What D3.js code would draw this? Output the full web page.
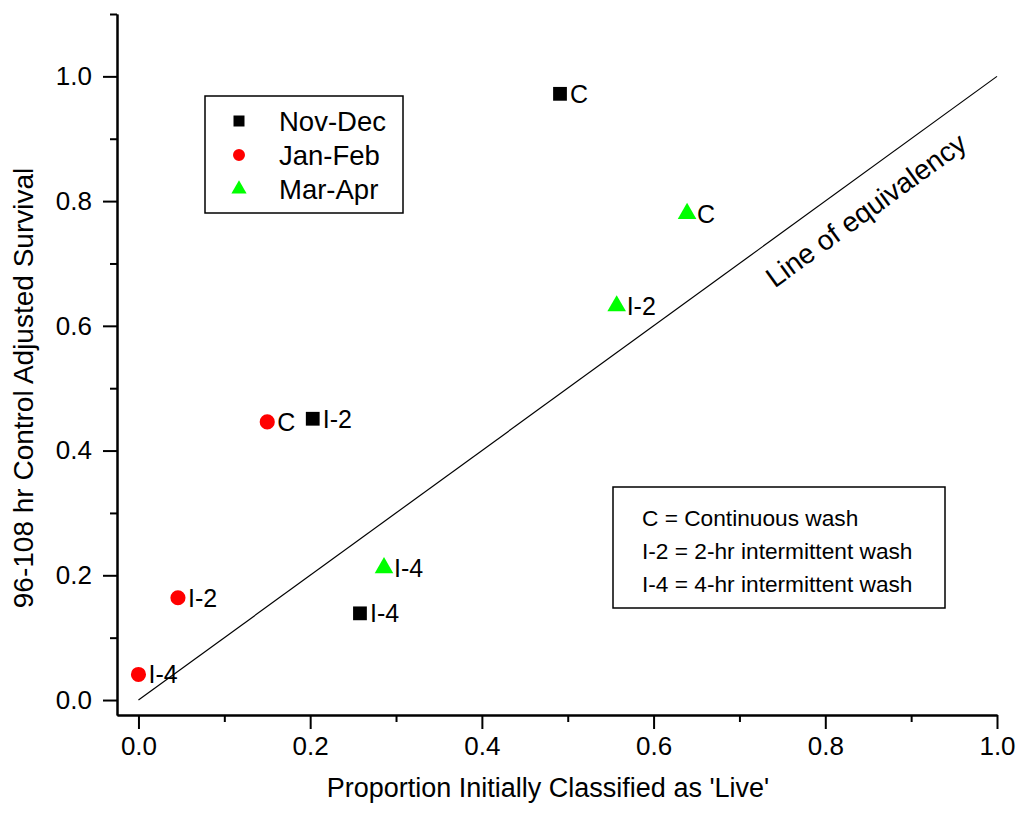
<!DOCTYPE html>
<html>
<head>
<meta charset="utf-8">
<script src="https://cdn.jsdelivr.net/npm/d3@7"></script>
<style>
    html, body { margin: 0; padding: 0; background: #ffffff; }
    svg { display: block; }
    svg text { font-family: "Liberation Sans", Arial, Helvetica, sans-serif; fill: #000; }
</style>
</head>
<body>
<div id="chart"></div>
<script>
(function () {
    "use strict";

    const periods = ["Nov-Dec", "Jan-Feb", "Mar-Apr"];
    const treatments = ["C", "I-2", "I-4"];

    // proportion classified live (x) and adjusted survival (y), per treatment
    const novDecX = [0.491, 0.203, 0.258];
    const novDecY = [0.972, 0.451, 0.139];
    const janFebX = [0.150, 0.046, 0.000];
    const janFebY = [0.446, 0.164, 0.041];
    const marAprX = [0.639, 0.557, 0.286];
    const marAprY = [0.780, 0.632, 0.212];

    const xMajorTicks = [0, 0.2, 0.4, 0.6, 0.8, 1.0];
    const xMinorTicks = [0.1, 0.3, 0.5, 0.7, 0.9];
    const yMajorTicks = [0, 0.2, 0.4, 0.6, 0.8, 1.0];
    const yMinorTicks = [0.1, 0.3, 0.5, 0.7, 0.9, 1.1];

    const notes = [
        "C = Continuous wash",
        "I-2 = 2-hr intermittent wash",
        "I-4 = 4-hr intermittent wash"
    ];

    const width = 1018;
    const height = 814;

    const seriesX = [novDecX, janFebX, marAprX];
    const seriesY = [novDecY, janFebY, marAprY];
    const colors = ["#000000", "#ff0000", "#00ff00"];
    const shapes = [d3.symbolSquare, d3.symbolCircle, d3.symbolTriangle];
    const markSize = [190, 180, 150];
    const legendSize = [121, 113, 100];

    const points = [];
    periods.forEach((period, i) => {
        treatments.forEach((t, j) => {
            points.push({ period, series: i, label: t, x: seriesX[i][j], y: seriesY[i][j] });
        });
    });

    const x = d3.scaleLinear().domain([-0.025, 1.0]).range([117, 997]);
    const y = d3.scaleLinear().domain([-0.024, 1.1]).range([715, 14]);

    const svg = d3.select("#chart")
        .append("svg")
        .attr("width", width)
        .attr("height", height)
        .attr("viewBox", [0, 0, width, height]);

    svg.append("rect")
        .attr("width", width)
        .attr("height", height)
        .attr("fill", "#ffffff");

    // axes
    const styleAxis = (g) => {
        g.select(".domain").attr("stroke", "#000").attr("stroke-width", 2);
        g.selectAll(".tick line").attr("stroke", "#000").attr("stroke-width", 2);
    };

    svg.append("g")
        .attr("transform", `translate(0,${y.range()[0]})`)
        .call(d3.axisBottom(x).tickValues(xMinorTicks).tickSize(7).tickSizeOuter(0).tickFormat(""))
        .call(styleAxis);

    svg.append("g")
        .attr("transform", `translate(0,${y.range()[0]})`)
        .call(d3.axisBottom(x).tickValues(xMajorTicks).tickSize(14).tickSizeOuter(0)
            .tickPadding(8).tickFormat(d3.format(".1f")))
        .call(styleAxis)
        .call((g) => g.selectAll("text").style("font-size", "26px"));

    svg.append("g")
        .attr("transform", `translate(${x.range()[0]},0)`)
        .call(d3.axisLeft(y).tickValues(yMinorTicks).tickSize(7).tickSizeOuter(0).tickFormat(""))
        .call(styleAxis);

    svg.append("g")
        .attr("transform", `translate(${x.range()[0]},0)`)
        .call(d3.axisLeft(y).tickValues(yMajorTicks).tickSize(14).tickSizeOuter(0)
            .tickPadding(11).tickFormat(d3.format(".1f")))
        .call(styleAxis)
        .call((g) => g.selectAll("text").style("font-size", "26px"));

    // axis titles
    svg.append("text")
        .attr("x", 548)
        .attr("y", 797)
        .attr("text-anchor", "middle")
        .style("font-size", "27px")
        .text("Proportion Initially Classified as 'Live'");

    svg.append("text")
        .attr("transform", "translate(33,388) rotate(-90)")
        .attr("text-anchor", "middle")
        .style("font-size", "28px")
        .text("96-108 hr Control Adjusted Survival");

    // line of equivalency
    svg.append("line")
        .attr("x1", x(0))
        .attr("y1", y(0))
        .attr("x2", x(1))
        .attr("y2", y(1))
        .attr("stroke", "#000")
        .attr("stroke-width", 1.2);

    const angle = Math.atan2(y(1) - y(0), x(1) - x(0)) * 180 / Math.PI;
    svg.append("text")
        .attr("transform", `translate(${x(0.741)},${y(0.66)}) rotate(${angle})`)
        .style("font-size", "28px")
        .text("Line of equivalency");

    // points
    svg.append("g")
        .selectAll("path")
        .data(points)
        .join("path")
        .attr("transform", (d) => `translate(${x(d.x)},${y(d.y)})`)
        .attr("d", (d) => d3.symbol(shapes[d.series], markSize[d.series])())
        .attr("fill", (d) => colors[d.series]);

    svg.append("g")
        .selectAll("text")
        .data(points)
        .join("text")
        .attr("x", (d) => x(d.x) + 10)
        .attr("y", (d) => y(d.y))
        .attr("dy", "0.36em")
        .style("font-size", "25px")
        .text((d) => d.label);

    // legend
    const legend = svg.append("g").attr("transform", "translate(205,96)");
    legend.append("rect")
        .attr("width", 198)
        .attr("height", 117)
        .attr("fill", "#fff")
        .attr("stroke", "#000")
        .attr("stroke-width", 1.5);

    const row = legend.selectAll(".row")
        .data(periods)
        .join("g")
        .attr("class", "row")
        .attr("transform", (d, i) => `translate(0,${25 + i * 34})`);

    row.append("path")
        .attr("transform", "translate(34,0)")
        .attr("d", (d, i) => d3.symbol(shapes[i], legendSize[i])())
        .attr("fill", (d, i) => colors[i]);

    row.append("text")
        .attr("x", 74)
        .attr("dy", "0.36em")
        .style("font-size", "27.5px")
        .text((d) => d);

    // wash key
    const key = svg.append("g").attr("transform", "translate(613,487)");
    key.append("rect")
        .attr("width", 332)
        .attr("height", 121)
        .attr("fill", "#fff")
        .attr("stroke", "#000")
        .attr("stroke-width", 1.5);

    key.selectAll("text")
        .data(notes)
        .join("text")
        .attr("x", 29)
        .attr("y", (d, i) => 39 + i * 33)
        .style("font-size", "22.7px")
        .text((d) => d);
})();
</script>
</body>
</html>
